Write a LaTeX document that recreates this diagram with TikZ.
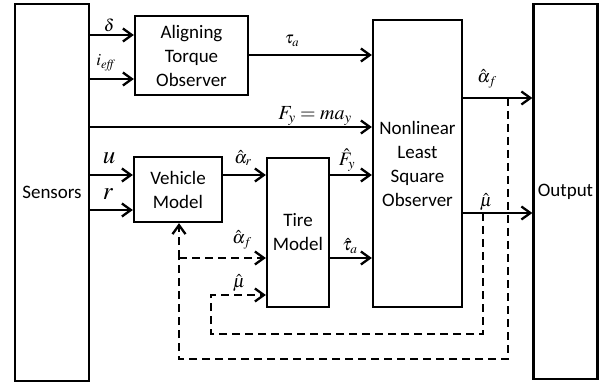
\documentclass[tikz,border=0pt]{standalone}
\usepackage{mathptmx}
\usepackage{fontspec}
\setmainfont{Carlito}
\usetikzlibrary{arrows.meta}
\tikzset{
  blk/.style={draw, line width=2.3pt, rectangle, inner sep=0pt, align=center,
    font=\fontsize{19}{24}\selectfont},
  tip/.style={-{Straight Barb[length=9pt,width=13pt]}},
  conn/.style={line width=2.3pt, tip},
  dsh/.style={line width=2.3pt, dash pattern=on 8pt off 5pt},
  lbl/.style={inner sep=0pt, font=\fontsize{17}{20}\selectfont},
  hlbl/.style={inner sep=0pt, font=\fontsize{18}{20}\selectfont},
  biglbl/.style={inner sep=0pt, font=\fontsize{25}{26}\selectfont},
}
\begin{document}
\begin{tikzpicture}[x=1pt,y=-1pt]
\useasboundingbox (0,0) rectangle (607,387);
\node[blk, minimum width=74pt, minimum height=377pt] (sensors) at (52,192.5) {Sensors};
\node[blk, minimum width=113pt, minimum height=79pt] (ato) at (191.5,55.5) {Aligning\\Torque\\Observer};
\node[blk, minimum width=88pt, minimum height=65pt] (veh) at (178,189.5) {Vehicle\\Model};
\node[blk, minimum width=62pt, minimum height=149pt] (tire) at (298,232.5) {Tire\\Model};
\node[blk, minimum width=89pt, minimum height=287pt] (nlso) at (417.5,163.5) {Nonlinear\\Least\\Square\\Observer};
\node[blk, minimum width=64pt, minimum height=375pt] (output) at (565.5,191.5) {Output};

% solid connectors
\draw[conn] (sensors.east |- {0,35}) -- (ato.west |- {0,35});
\draw[conn] (sensors.east |- {0,79}) -- (ato.west |- {0,79});
\draw[conn] (ato.east |- {0,55}) -- (nlso.west |- {0,55});
\draw[conn] (sensors.east |- {0,127}) -- (nlso.west |- {0,127});
\draw[conn] (sensors.east |- {0,175}) -- (veh.west |- {0,175});
\draw[conn] (sensors.east |- {0,210}) -- (veh.west |- {0,210});
\draw[conn] (veh.east |- {0,175}) -- (tire.west |- {0,175});
\draw[conn] (tire.east |- {0,175}) -- (nlso.west |- {0,175});
\draw[conn] (tire.east |- {0,258}) -- (nlso.west |- {0,258});
\draw[conn] (nlso.east |- {0,98}) -- (output.west |- {0,98});
\draw[conn] (nlso.east |- {0,213}) -- (output.west |- {0,213});

% dashed feedback
\coordinate (fa) at (508,98);
\coordinate (fb) at (508,359);
\coordinate (fc) at (179,359);
\coordinate (fd) at (179,258);
\draw[dsh] (fa) -- (fb) -- (fc) -- (fd);
\draw[dsh, tip] (fd) -- (veh.south -| fd);
\draw[dsh, tip] (fd) -- (tire.west |- fd);
\coordinate (ma) at (483,213);
\coordinate (mb) at (483,334);
\coordinate (mc) at (211,334);
\coordinate (md) at (211,295);
\draw[dsh, tip] (ma) -- (mb) -- (mc) -- (md) -- (tire.west |- md);

% labels
\node[lbl] (l1) at (109,25) {$\delta$};
\node[lbl] (l2) at (106,63) {$i_{\mathit{eff}}$};
\node[lbl] (l3) at (292,41) {$\tau_a$};
\node[lbl, font=\fontsize{20}{22}\selectfont] (l4) at (315,116) {$F_y = ma_y$};
\node[biglbl] (l5) at (109,158) {$u$};
\node[biglbl] (l6) at (108,194) {$r$};
\node[hlbl] (l7) at (243,158) {$\hat{\alpha}_r$};
\node[hlbl, font=\fontsize{19}{20}\selectfont] (l8) at (347,160) {$\hat{F}_y$};
\node[hlbl] (l9) at (350,246) {$\hat{\tau}_a$};
\node[hlbl] (l10) at (242,240) {$\hat{\alpha}_f$};
\node[hlbl] (l11) at (239,283) {$\hat{\mu}$};
\node[hlbl] (l12) at (487,79) {$\hat{\alpha}_f$};
\node[hlbl] (l13) at (486,202) {$\hat{\mu}$};
\end{tikzpicture}
\end{document}
